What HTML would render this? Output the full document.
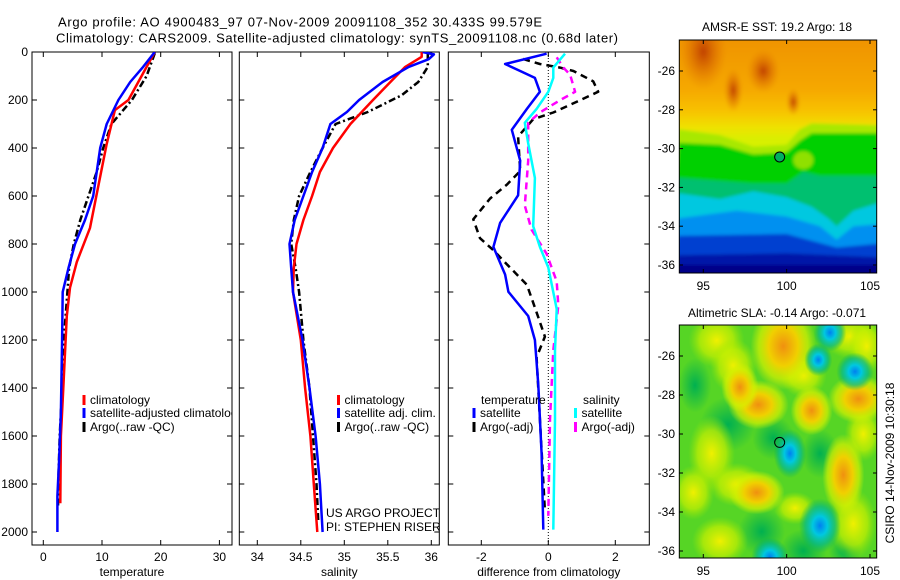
<!DOCTYPE html>
<html><head><meta charset="utf-8"><style>
html,body{margin:0;padding:0;background:#fff;}
svg{display:block;font-family:"Liberation Sans",sans-serif;}
</style></head><body>
<svg id="fig" width="900" height="580" viewBox="0 0 900 580" xmlns="http://www.w3.org/2000/svg">
<defs>
<clipPath id="c1"><rect x="32" y="52" width="200" height="493"/></clipPath>
<clipPath id="c2"><rect x="239.3" y="52" width="200" height="493"/></clipPath>
<clipPath id="c3"><rect x="448.3" y="52" width="201" height="493"/></clipPath>
<clipPath id="cm1"><rect x="679.3" y="40" width="197.4" height="233"/></clipPath>
<clipPath id="cm2"><rect x="679.3" y="325" width="197.4" height="233"/></clipPath>
<filter id="soft" x="-5%" y="-5%" width="110%" height="110%"><feGaussianBlur stdDeviation="1.5"/></filter>
<linearGradient id="sstg" x1="0" y1="40" x2="0" y2="273" gradientUnits="userSpaceOnUse">
<stop offset="0" stop-color="#f09400"/><stop offset="0.21" stop-color="#f5a800"/>
<stop offset="0.30" stop-color="#f8c000"/><stop offset="0.37" stop-color="#f0e000"/>
<stop offset="0.43" stop-color="#d8f000"/><stop offset="1" stop-color="#d8f000"/>
</linearGradient>
<radialGradient id="gOr"><stop offset="0" stop-color="#f09010"/><stop offset="0.45" stop-color="#f0d000"/><stop offset="0.75" stop-color="#d8f000" stop-opacity="0.7"/><stop offset="1" stop-color="#d8f000" stop-opacity="0"/></radialGradient>
<radialGradient id="gYe"><stop offset="0" stop-color="#f0f000"/><stop offset="0.6" stop-color="#c8f000" stop-opacity="0.7"/><stop offset="1" stop-color="#a0e800" stop-opacity="0"/></radialGradient>
<radialGradient id="gCy"><stop offset="0" stop-color="#0080f0"/><stop offset="0.35" stop-color="#00c8e0"/><stop offset="0.7" stop-color="#00b890" stop-opacity="0.7"/><stop offset="1" stop-color="#00b060" stop-opacity="0"/></radialGradient>
<radialGradient id="gDg"><stop offset="0" stop-color="#00b050"/><stop offset="1" stop-color="#00b050" stop-opacity="0"/></radialGradient>
<radialGradient id="gDo"><stop offset="0" stop-color="#c04000"/><stop offset="1" stop-color="#e07000" stop-opacity="0"/></radialGradient>
</defs>
<g id="root"></g>
</svg>
<script>
// ---------- data ----------
const tempDepthClim = [0,62,200,242,383,592,733,875,982,1100,1400,1600,1880];
const tempClim = [19.0,17.6,14.5,12.2,10.8,9.1,7.95,5.7,4.55,4.0,3.4,3.0,2.9];
const tempDepthSat = [0,62,125,200,300,400,500,600,700,800,900,1000,1200,1500,1700,1850,2000];
const tempSat = [19.0,17.0,14.8,12.8,10.8,9.7,9.1,8.5,7.1,5.4,4.3,3.3,3.2,3.0,2.7,2.4,2.4];
const tempDepthArgo = [5,100,200,300,400,500,600,700,800,900,1000,1200,1400,1600,1750,1900];
const tempArgo = [19.0,17.6,15.1,11.6,10.2,9.1,7.7,6.3,5.2,4.4,4.1,3.5,3.2,2.8,2.6,2.5];

const salDepthClim = [0,20,62,125,200,300,400,500,600,700,800,900,1000,1200,1400,1600,1800,2000];
const salClim = [35.89,35.89,35.70,35.53,35.33,35.07,34.87,34.72,34.63,34.53,34.45,34.42,34.41,34.50,34.55,34.61,34.65,34.69];
const salDepthSat = [0,10,30,62,125,200,250,300,400,500,600,700,800,900,1000,1200,1400,1600,1800,2000];
const salSat = [35.90,36.03,35.97,35.74,35.44,35.17,35.03,34.84,34.75,34.63,34.53,34.43,34.37,34.39,34.41,34.52,34.60,34.67,34.72,34.75];
const salDepthArgo = [5,62,125,180,250,300,400,500,600,700,800,900,1000,1200,1400,1600,1800,1950];
const salArgo = [35.96,35.96,35.85,35.66,35.27,34.90,34.75,34.61,34.48,34.42,34.39,34.44,34.48,34.53,34.60,34.64,34.68,34.70];

const dTempSatDepth = [7,50,79,108,166,237,324,453,597,712,812,927,999,1100,1200,1387,1674,1990];
const dTempSat = [-0.05,-1.29,-0.84,-0.40,-0.25,-0.64,-1.09,-0.84,-0.90,-1.44,-1.64,-1.29,-1.19,-0.60,-0.40,-0.30,-0.20,-0.15];
const dTempArgoDepth = [29,50,65,79,122,166,201,252,280,352,496,553,611,697,776,826,884,970,1085,1186,1272,1530,1911];
const dTempArgo = [-0.75,-0.25,0.35,0.75,1.34,1.49,0.95,0.15,-0.45,-0.90,-0.84,-1.24,-1.74,-2.24,-2.04,-1.64,-1.24,-0.64,-0.35,-0.10,-0.35,-0.25,-0.10];
const dSalSatDepth = [7,65,108,166,237,295,381,525,726,812,898,1071,1243,1530,1990];
const dSalSat = [0.50,0.15,0.15,0.00,-0.35,-0.70,-0.60,-0.40,-0.45,-0.25,0.00,0.25,0.20,0.20,0.15];
const dSalArgoDepth = [22,65,94,166,201,252,295,453,640,740,841,956,1056,1243,1530,1933];
const dSalArgo = [0.25,0.45,0.65,0.80,0.35,-0.25,-0.60,-0.60,-0.70,-0.50,-0.05,0.25,0.30,0.15,0.05,0.00];

const depthTicks = [0,200,400,600,800,1000,1200,1400,1600,1800,2000];
const tempTicks = [0,10,20,30];
const salTicks = [34,34.5,35,35.5,36];
const salTickLabels = ["34","34.5","35","35.5","36"];
const diffTicks = [-2,0,2];
const latTicks = [-26,-28,-30,-32,-34,-36];
const lonTicks = [95,100,105];

// ---------- scales ----------
const yD = d => 52 + 0.24*d;
const xT = t => 43.3 + 5.87*t;
const xS = s => 257.3 + 87*(s-34);
const xDf = v => 548.3 + 33.5*v;
const xLon = l => 703.3 + 16.67*(l-95);
const yLat1 = l => 71 + 19.4*(-26 - l);
const yLat2 = l => 356 + 19.5*(-26 - l);

const NS = "http://www.w3.org/2000/svg";
const root = document.getElementById('root');
function mk(tag, attrs, parent){
  const e = document.createElementNS(NS, tag);
  for (const k in attrs) e.setAttribute(k, attrs[k]);
  (parent||root).appendChild(e);
  return e;
}
function txt(s, x, y, anchor, size, parent){
  const t = mk('text', {x:x, y:y, 'text-anchor':anchor||'start', 'font-size':size||12, 'dominant-baseline':'central', fill:'#000'}, parent);
  t.textContent = s;
  return t;
}

// titles
let t1 = txt("Argo profile: AO 4900483_97 07-Nov-2009 20091108_352 30.433S 99.579E", 58, 22, 'start', 13);
t1.setAttribute('textLength', 484);


let t2 = txt("Climatology: CARS2009. Satellite-adjusted climatology: synTS_20091108.nc (0.68d later)", 56, 38, 'start', 13);
t2.setAttribute('textLength', 562);



// ---------- panels ----------
function panel(name, x0, x1, xfun, xticks, xlabels, xtitle, clipId, showYLabels){
  const g = mk('g', {});
  
  
  const fr = mk('rect', {x:x0, y:52, width:x1-x0, height:493, fill:'none', stroke:'#000', 'stroke-width':1}, g);
  
  
  depthTicks.forEach(d => {
    const y = yD(d);
    mk('line', {x1:x0, y1:y, x2:x0+5, y2:y, stroke:'#000'}, g);
    mk('line', {x1:x1-5, y1:y, x2:x1, y2:y, stroke:'#000'}, g);
    if (showYLabels){
      const l = txt(String(d), 28, y, 'end', 12, g);
      
      
    }
  });
  xticks.forEach((v,i) => {
    const x = xfun(v);
    mk('line', {x1:x, y1:52, x2:x, y2:57, stroke:'#000'}, g);
    mk('line', {x1:x, y1:540, x2:x, y2:545, stroke:'#000'}, g);
    const l = txt(xlabels[i], x, 557, 'middle', 12, g);
    
    
  });
  const at = txt(xtitle, (x0+x1)/2, 572, 'middle', 12, g);
  
  
  const pg = mk('g', {'clip-path':'url(#'+clipId+')'}, g);
  return pg;
}
function series(pg, name, depths, vals, xfun, color, dash, w){
  const pts = depths.map((d,i) => xfun(vals[i]).toFixed(1)+','+yD(d).toFixed(1)).join(' ');
  const p = mk('polyline', {points:pts, fill:'none', stroke:color, 'stroke-width':w||2.5, 'stroke-linejoin':'round'}, pg);
  if (dash) p.setAttribute('stroke-dasharray', dash);
  
  
}
function legendEntry(pg, name, x, y, color, label){
  const r = mk('rect', {x:x-1.5, y:y-5, width:3, height:10, fill:color}, pg);
  
  
  const l = txt(label, x+6, y, 'start', 12, pg);
  
  
}

// Panel 1 temperature
const p1 = panel('temperature-panel', 32, 232, xT, tempTicks, tempTicks.map(String), 'temperature', 'c1', true);
series(p1, 'temp-argo-line', tempDepthArgo, tempArgo, xT, '#000', '7,3,2,3');
series(p1, 'temp-climatology-line', tempDepthClim, tempClim, xT, '#ff0000');
series(p1, 'temp-satellite-line', tempDepthSat, tempSat, xT, '#0000ff');
legendEntry(p1, 'legend-climatology', 84, 400, '#ff0000', 'climatology');
legendEntry(p1, 'legend-satellite-adjusted', 84, 413, '#0000ff', 'satellite-adjusted climatology');
legendEntry(p1, 'legend-argo', 84, 427, '#000', 'Argo(..raw -QC)');

// Panel 2 salinity
const p2 = panel('salinity-panel', 239.3, 439.3, xS, salTicks, salTickLabels, 'salinity', 'c2', false);
series(p2, 'sal-argo-line', salDepthArgo, salArgo, xS, '#000', '7,3,2,3');
series(p2, 'sal-climatology-line', salDepthClim, salClim, xS, '#ff0000');
series(p2, 'sal-satellite-line', salDepthSat, salSat, xS, '#0000ff');
legendEntry(p2, 'legend-climatology', 338.5, 400, '#ff0000', 'climatology');
legendEntry(p2, 'legend-satellite-adj', 338.5, 413, '#0000ff', 'satellite adj. clim.');
legendEntry(p2, 'legend-argo', 338.5, 427, '#000', 'Argo(..raw -QC)');
let u1 = txt('US ARGO PROJECT', 326, 513, 'start', 12, p2);


let u2 = txt('PI: STEPHEN RISER', 326, 527, 'start', 12, p2);



// Panel 3 differences
const p3 = panel('difference-panel', 448.3, 649.3, xDf, diffTicks, diffTicks.map(String), 'difference from climatology', 'c3', false);
const zl = mk('line', {x1:xDf(0), y1:52, x2:xDf(0), y2:545, stroke:'#000', 'stroke-width':1, 'stroke-dasharray':'1,2'}, p3);


series(p3, 'diff-temp-argo-line', dTempArgoDepth, dTempArgo, xDf, '#000', '7,5');
series(p3, 'diff-sal-argo-line', dSalArgoDepth, dSalArgo, xDf, '#ff00ff', '7,5');
series(p3, 'diff-sal-satellite-line', dSalSatDepth, dSalSat, xDf, '#00ffff');
series(p3, 'diff-temp-satellite-line', dTempSatDepth, dTempSat, xDf, '#0000ff');
let lt = txt('temperature', 481, 400, 'start', 12, p3);


let ls = txt('salinity', 583, 400, 'start', 12, p3);


legendEntry(p3, 'legend-temp-satellite', 474, 413, '#0000ff', 'satellite');
legendEntry(p3, 'legend-temp-argo', 474, 427, '#000', 'Argo(-adj)');
legendEntry(p3, 'legend-sal-satellite', 575.5, 413, '#00ffff', 'satellite');
legendEntry(p3, 'legend-sal-argo', 575.5, 427, '#ff00ff', 'Argo(-adj)');

// ---------- maps ----------
const sstDark = [[95,-25,1.0,1.4],[98.6,-26,0.7,0.8],[100.4,-27.6,0.3,0.5],[96.8,-27,0.4,0.8]];
// SST band boundaries [lon, lat] and band colours (top to bottom)
const sstBandColors = ['#a8e800','#00d000','#00c070','#00c8e0','#0090f0','#0040d0','#0018a8','#000088'];
const sstBandEdges = [
  [[93.5,-29.0],[96,-29.3],[98,-29.9],[100,-29.8],[100.8,-29.0],[101.5,-28.7],[105.5,-28.8]],
  [[93.5,-29.7],[96,-29.8],[98,-30.3],[100,-30.2],[100.8,-29.6],[101.5,-29.2],[105.5,-29.2]],
  [[93.5,-31.5],[98,-31.8],[100,-31.8],[101,-31.2],[102,-31.4],[105.5,-31.4]],
  [[93.5,-32.3],[96,-32.6],[98,-32.2],[100,-32.5],[101.5,-33.0],[102.5,-33.6],[103,-34.0],[104,-33.2],[105.5,-32.8]],
  [[93.5,-33.6],[97,-33.2],[100,-33.5],[102,-34.0],[103,-34.7],[104,-34.0],[105.5,-33.9]],
  [[93.5,-34.5],[100,-34.4],[103,-35.1],[105.5,-34.9]],
  [[93.5,-35.5],[100,-35.4],[105.5,-35.6]],
  [[93.5,-36.0],[105.5,-36.0]]
];
const slaOrange = [[99.8,-25.5,1.4,1.6],[98.3,-28.5,1.3,0.9],[97.2,-27.6,0.8,0.9],[101.5,-28.8,0.9,0.9],[104.3,-28.2,1.3,0.9],[103.4,-32.1,0.9,1.5],[98.2,-33,1.2,0.8]];
const slaYellow = [[95.8,-25.2,1.2,1.0],[96.8,-26.5,1.0,1.0],[103.8,-25,1.2,0.8],[104.8,-25.5,0.8,1.0],[95.5,-31,1.0,1.4],[94.4,-33,0.9,1.0],[96,-35.5,1.2,0.9],[104,-34.6,1.0,1.3],[104.6,-30,0.8,1.0],[100.5,-33.8,0.9,0.6],[97,-32.6,1.2,0.8],[101,-27,1.0,0.8]];
const slaCyan = [[100.2,-31,0.7,0.9],[102,-34.7,0.9,1.0],[104.1,-26.8,0.8,0.7],[102.6,-24.8,0.7,0.7],[99,-36.3,0.8,0.7],[101.9,-26.2,0.6,0.6]];
const slaDark = [[96.5,-29.5,1.2,1.0],[99.2,-30.2,0.9,0.8],[102,-31,0.8,0.9],[94.5,-27.5,0.7,1.0],[98.5,-35,1.0,0.9],[101,-36,1.0,0.8],[103.5,-36,0.7,0.6]];

function mapFrame(name, top, yLat, title, titleY, clipId){
  const g = mk('g', {});
  
  
  const mg = mk('g', {'clip-path':'url(#'+clipId+')'}, g);
  const tt = txt(title, 777, titleY, 'middle', 12, g);
  
  
  return [g, mg];
}
function mapAxes(g, name, top, yLat){
  const b = top + 233;
  const fr = mk('rect', {x:679.3, y:top, width:197.4, height:233, fill:'none', stroke:'#000', 'stroke-width':1}, g);
  
  
  latTicks.forEach(l => {
    const y = yLat(l);
    mk('line', {x1:679.3, y1:y, x2:683, y2:y, stroke:'#000'}, g);
    mk('line', {x1:873, y1:y, x2:876.7, y2:y, stroke:'#000'}, g);
    const lb = txt(String(l), 675, y, 'end', 12, g);
    
    
  });
  lonTicks.forEach(l => {
    const x = xLon(l);
    mk('line', {x1:x, y1:top, x2:x, y2:top+4, stroke:'#000'}, g);
    mk('line', {x1:x, y1:b-4, x2:x, y2:b, stroke:'#000'}, g);
    const lb = txt(String(l), x, b+13, 'middle', 12, g);
    
    
  });
}
function blobs(mg, list, fill, yLat, name){
  list.forEach(b => {
    const e = mk('ellipse', {cx:xLon(b[0]), cy:yLat(b[1]), rx:b[2]*16.67*1.4, ry:b[3]*19.5*1.4, fill:'url(#'+fill+')'}, mg);
    
    
  });
}

// SST map
const [g1, m1] = mapFrame('sst-map', 40, yLat1, 'AMSR-E SST: 19.2 Argo: 18', 27, 'cm1');
const sstInner = mk('g', {filter:'url(#soft)'}, m1);
mk('rect', {x:670, y:30, width:220, height:260, fill:'url(#sstg)'}, sstInner);
blobs(sstInner, sstDark, 'gDo', yLat1, 'sst-warm-patch');
sstBandEdges.forEach((edge, i) => {
  const pts = edge.map(p => xLon(p[0]).toFixed(1)+','+yLat1(p[1]).toFixed(1));
  pts.push('890,290', '670,290');
  const poly = mk('polygon', {points:pts.join(' '), fill:sstBandColors[i]}, sstInner);
  
  
});
mk('ellipse', {cx:xLon(101), cy:yLat1(-30.6), rx:10, ry:9, fill:'#90e000'}, sstInner);
const mk1 = mk('circle', {cx:xLon(99.58), cy:yLat1(-30.43), r:5, fill:'#00b060', stroke:'#000', 'stroke-width':1}, g1);


mapAxes(g1, 'sst-map', 40, yLat1);

// SLA map
const [g2, m2] = mapFrame('sla-map', 325, yLat2, 'Altimetric SLA: -0.14  Argo: -0.071', 313, 'cm2');
mk('rect', {x:679.3, y:325, width:197.4, height:233, fill:'#40d030'}, m2);
mk('rect', {x:679.3, y:325, width:197.4, height:233, fill:'#80e010', opacity:0.35}, m2);
blobs(m2, slaDark, 'gDg', yLat2, 'sla-low-patch');
blobs(m2, slaYellow, 'gYe', yLat2, 'sla-high-patch');
blobs(m2, slaOrange, 'gOr', yLat2, 'sla-peak-patch');
blobs(m2, slaCyan, 'gCy', yLat2, 'sla-trough-patch');
const mk2 = mk('circle', {cx:xLon(99.58), cy:yLat2(-30.43), r:5, fill:'none', stroke:'#000', 'stroke-width':1}, g2);


mapAxes(g2, 'sla-map', 325, yLat2);

// side stamp
const st = txt('CSIRO 14-Nov-2009 10:30:18', 0, 0, 'middle', 12);
st.setAttribute('transform', 'translate(890,463) rotate(-90)');


</script>
</body></html>
